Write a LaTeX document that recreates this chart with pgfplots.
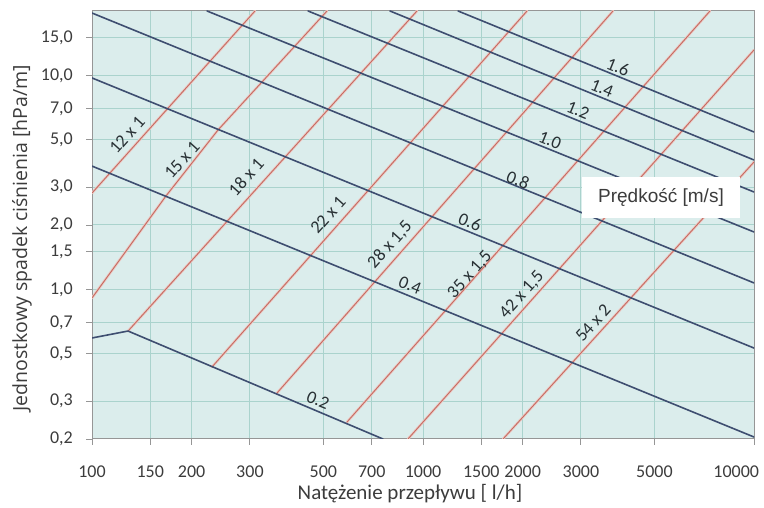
\documentclass[border=0pt]{standalone}
\usepackage{pgfplots}
\pgfplotsset{compat=1.18}
\usepackage{fontspec}
\setmainfont{Carlito}
\newfontfamily\arialfont{Liberation Sans}
\newfontfamily\ylabfont{Open Sans}

\definecolor{bg}{RGB}{219,237,236}
\definecolor{gridc}{RGB}{170,211,205}
\definecolor{axc}{RGB}{150,150,150}
\definecolor{bluel}{RGB}{62,78,112}
\definecolor{redl}{RGB}{196,108,98}
\definecolor{redh}{RGB}{236,200,195}
\definecolor{txt}{RGB}{60,60,60}
\definecolor{lbl}{RGB}{40,48,52}

\begin{document}
\begin{tikzpicture}[x=1pt,y=1pt]
\path[use as bounding box] (0,0) rectangle (764,508);
\begin{axis}[
  at={(92pt,69pt)}, anchor=south west,
  scale only axis, width=662pt, height=428pt,
  xmode=log, ymode=log,
  xmin=100, xmax=10000, ymin=0.2, ymax=20,
  axis background/.style={fill=bg},
  xtick={100,150,200,300,500,700,1000,1500,2000,3000,5000,10000},
  xticklabels={100,150,200,300,500,700,1000,1500,2000,3000,5000,{\makebox[0pt][r]{10000\hspace*{-5pt}}}},
  ytick={0.2,0.3,0.5,0.7,1,1.5,2,3,5,7,10,15},
  yticklabels={{0,2},{0,3},{0,5},{0,7},{1,0},{1,5},{2,0},{3,0},{5,0},{7,0},{10,0},{15,0}},
  xminorticks=false, yminorticks=false,
  grid=major, major grid style={gridc, line width=1pt},
  axis line style={axc, line width=1pt},
  tick style={axc, line width=0.9pt}, tick align=outside, major tick length=6pt,
  xtick pos=bottom, ytick pos=left,
  ticklabel style={font=\fontsize{18}{20}\selectfont, text=txt, inner sep=0pt},
  xticklabel style={anchor=center, yshift=-27pt},
  yticklabel style={anchor=east, xshift=-13pt},
  clip=true,
  every axis plot/.append style={line join=round, line cap=round},
]
% pipe lines (red)
\pgfplotsset{pipe/.style={redl, line width=0.9pt, preaction={draw, redh, line width=2.6pt}}}
\addplot[pipe] coordinates {(100,2.82) (310.8,20)};
\addplot[pipe] coordinates {(100,0.912) (167.3,2.733) (240.3,5.56) (512.9,20)};
\addplot[pipe] coordinates {(128.5,0.639) (959,20)};
\addplot[pipe] coordinates {(230.4,0.434) (2062,20)};
\addplot[pipe] coordinates {(362.2,0.328) (3750,20)};
\addplot[pipe] coordinates {(589.3,0.240) (7364,20)};
\addplot[pipe] coordinates {(900.7,0.2) (10000,13.15)};
\addplot[pipe] coordinates {(1745,0.2) (10000,3.94)};
% velocity lines (blue)
\pgfplotsset{vel/.style={bluel, line width=1.6pt}}
\addplot[vel] coordinates {(100,0.593) (128.5,0.639) (757,0.2)};
\addplot[vel] coordinates {(100,3.77) (10000,0.2043)};
\addplot[vel] coordinates {(100,9.73) (10000,0.532)};
\addplot[vel] coordinates {(100,19.57) (10000,1.072)};
\addplot[vel] coordinates {(222.6,20) (10000,1.855)};
\addplot[vel] coordinates {(449.4,20) (10000,2.852)};
\addplot[vel] coordinates {(795,20) (10000,4.025)};
\addplot[vel] coordinates {(1276,20) (10000,5.44)};
% velocity labels
\begin{scope}[every node/.style={font=\fontsize{18}{20}\selectfont, text=lbl, rotate=-22, inner sep=0pt}]
\node at (rel axis cs:0.7946,0.8692) {1.6};
\node at (rel axis cs:0.7704,0.8201) {1.4};
\node at (rel axis cs:0.7341,0.7687) {1.2};
\node at (rel axis cs:0.6918,0.6986) {1.0};
\node at (rel axis cs:0.6435,0.6051) {0.8};
\node at (rel axis cs:0.5710,0.5070) {0.6};
\node at (rel axis cs:0.4804,0.3598) {0.4};
\node at (rel axis cs:0.3414,0.0911) {0.2};
\end{scope}
% pipe labels
\begin{scope}[every node/.style={font=\fontsize{18}{20}\selectfont, text=lbl, rotate=48, inner sep=0pt}]
\node at (rel axis cs:0.0529,0.7103) {12 x 1};
\node at (rel axis cs:0.1360,0.6519) {15 x 1};
\node at (rel axis cs:0.2326,0.6121) {18 x 1};
\node at (rel axis cs:0.3565,0.5234) {22 x 1};
\node at (rel axis cs:0.4502,0.4533) {28 x 1,5};
\node at (rel axis cs:0.5710,0.3832) {35 x 1,5};
\node at (rel axis cs:0.6495,0.3364) {42 x 1,5};
\node at (rel axis cs:0.7568,0.2710) {54 x 2};
\end{scope}
\node[fill=white, minimum width=158pt, minimum height=41pt, inner sep=0pt,
      font=\arialfont\fontsize{19}{21}\selectfont, text=txt]
  at (rel axis cs:0.8595,0.5654) {Prędkość [m/s]};
\end{axis}
\node[font=\fontsize{21}{23}\selectfont, text=txt] at (410,14) {Natężenie przepływu [ l/h]};
\node[font=\ylabfont\fontsize{19.5}{22}\selectfont, text=txt, rotate=90] at (22,270) {Jednostkowy spadek ciśnienia [hPa/m]};
\end{tikzpicture}
\end{document}
